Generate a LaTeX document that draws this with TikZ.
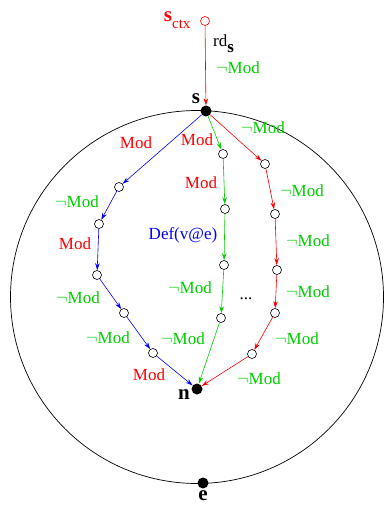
\documentclass[tikz,border=0pt]{standalone}
\usepackage{fontspec}
\setmainfont{Liberation Serif}
\usepackage{xcolor}
\usepackage{tikz}
\usetikzlibrary{arrows.meta}
\definecolor{modred}{RGB}{255,0,0}
\definecolor{modgreen}{RGB}{0,205,0}
\definecolor{defblue}{RGB}{0,0,255}

\begin{document}
\begin{tikzpicture}[x=1pt, y=-1pt, every node/.style={font=\fontsize{17}{20}\selectfont},
  pt/.style={circle, draw, line width=0.6pt, fill=white, inner sep=0pt, minimum size=9pt},
  dot/.style={circle, fill=black, inner sep=0pt, minimum size=11pt},
  big/.style={font=\fontsize{21}{24}\selectfont\bfseries},
  arr/.style={-{Stealth[length=7pt,width=4.5pt]}, line width=0.6pt}]
  \useasboundingbox (0,0) rectangle (384,505);
  \draw[line width=0.7pt] (197,297) circle (186.5);
  % entry point and region points
  \node[pt, draw=modred] (sctx) at (205,21) {};
  \node[dot] (s) at (206,111) {};
  \node[dot] (n) at (197,389) {};
  \node[dot] (e) at (203,483) {};
  \node[big, text=modred, anchor=base east] (lctx) at (194,22) {s\raisebox{-7pt}{\fontsize{15}{15}\mdseries ctx}};
  \node[anchor=base west, inner sep=0pt] (lrd) at (213,47) {rd\raisebox{-6pt}{\bfseries s}};
  \node[text=modgreen] (lin) at (238,68) {$\neg$Mod};
  \node[big] (ls) at (196,99) {s};
  \node[big] (ln) at (184,395) {n};
  \node[big] (le) at (203,496) {e};
  \draw[arr, modred] (sctx) -- (s);
  % blue path
  \foreach \name/\x/\y in {b1/119/187, b2/99/224, b3/97/275, b4/124/313, b5/153/353}
    \node[pt] (\name) at (\x,\y) {};
  \foreach \a/\b in {s/b1, b1/b2, b2/b3, b3/b4, b4/b5, b5/n}
    \draw[arr, defblue] (\a) -- (\b);
  % green path
  \foreach \name/\x/\y in {g1/223/154, g2/225/209, g3/224/265, g4/221/318}
    \node[pt] (\name) at (\x,\y) {};
  \foreach \a/\b in {s/g1, g1/g2, g2/g3, g3/g4, g4/n}
    \draw[arr, modgreen] (\a) -- (\b);
  % red path
  \foreach \name/\x/\y in {r1/265/164, r2/275/214, r3/277/270, r4/275/313, r5/252/354}
    \node[pt] (\name) at (\x,\y) {};
  \foreach \a/\b in {s/r1, r1/r2, r2/r3, r3/r4, r4/r5, r5/n}
    \draw[arr, modred] (\a) -- (\b);
  \node (dots) at (246,299) {...};
  % labels on the blue path
  \node[text=modred] (mb1) at (136,143) {Mod};
  \node[text=modgreen] (mb2) at (77,202) {$\neg$Mod};
  \node[text=modred] (mb3) at (75,244) {Mod};
  \node[text=modgreen] (mb4) at (78,298) {$\neg$Mod};
  \node[text=modgreen] (mb5) at (108,338) {$\neg$Mod};
  \node[text=modred] (mb6) at (149,375) {Mod};
  % labels on the green path
  \node[text=modred] (mg1) at (197,140) {Mod};
  \node[text=modred] (mg2) at (201,183) {Mod};
  \node[text=defblue] (mg3) at (183,235) {Def(v@e)};
  \node[text=modgreen] (mg4) at (190,288) {$\neg$Mod};
  \node[text=modgreen] (mg5) at (183,339) {$\neg$Mod};
  % labels on the red path
  \node[text=modgreen] (mr1) at (263,128) {$\neg$Mod};
  \node[text=modgreen] (mr2) at (302,191) {$\neg$Mod};
  \node[text=modgreen] (mr3) at (308,241) {$\neg$Mod};
  \node[text=modgreen] (mr4) at (308,292) {$\neg$Mod};
  \node[text=modgreen] (mr5) at (297,339) {$\neg$Mod};
  \node[text=modgreen] (mr6) at (259,379) {$\neg$Mod};
\end{tikzpicture}
\end{document}
